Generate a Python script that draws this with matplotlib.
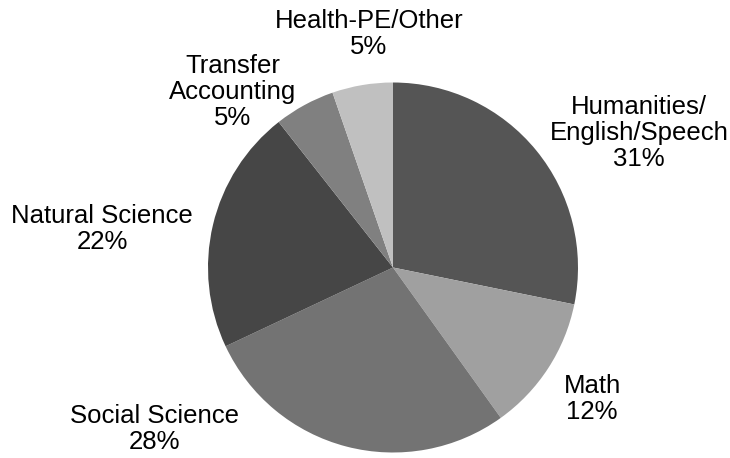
import matplotlib
matplotlib.use("Agg")
import matplotlib.pyplot as plt

# Data (wedge sizes; printed labels as shown)
categories = ["Humanities/\nEnglish/Speech", "Math", "Social Science",
              "Natural Science", "Transfer\nAccounting", "Health-PE/Other"]
shares = [28.2, 11.9, 27.9, 21.4, 5.3, 5.3]
pct_labels = ["31%", "12%", "28%", "22%", "5%", "5%"]

# Styling / layout
colors = ["#555555", "#a0a0a0", "#737373", "#464646", "#808080", "#c0c0c0"]
W, H = 730, 458
center = (393, H - 267.5)
radius = 185
label_pos = [(639, 133), (592, 399), (155, 429), (102, 229), (233, 92), (369, 34)]

plt.rcParams['font.family'] = ['Liberation Sans', 'DejaVu Sans']
fig = plt.figure(figsize=(W / 100, H / 100), dpi=100)
ax = fig.add_axes([0, 0, 1, 1])
ax.pie(shares, colors=colors, startangle=90, counterclock=False,
       center=center, radius=radius, frame=True,
       wedgeprops=dict(linewidth=0))
ax.set_xlim(0, W)
ax.set_ylim(0, H)
ax.set_aspect('equal')
ax.axis('off')

for cat, pct, (x, y) in zip(categories, pct_labels, label_pos):
    ax.text(x, H - y, f"{cat}\n{pct}", ha='center', va='center',
            fontsize=18.5, linespacing=1.1, color='black')

fig.savefig("out.png", dpi=100)
